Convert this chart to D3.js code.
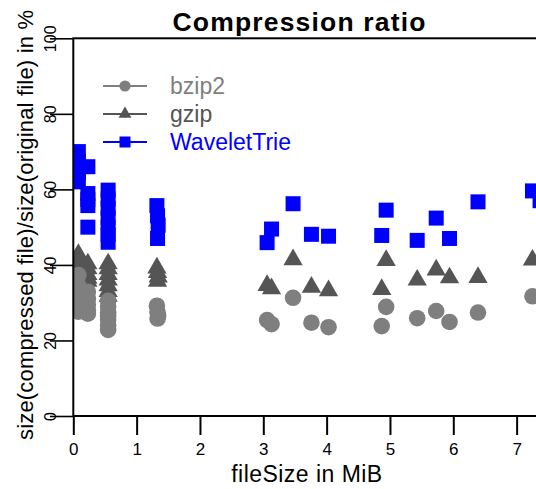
<!DOCTYPE html>
<html><head><meta charset="utf-8">
<script src="https://cdn.jsdelivr.net/npm/d3@7"></script>
<style>body{margin:0;background:#fff}svg{display:block;font-family:"Liberation Sans",Arial,Helvetica,sans-serif}</style>
</head><body><svg id="c" width="536" height="489"></svg>
<script>
const fileSizes = [0.08,0.08,0.08,0.08, 0.23,0.23,0.23,0.23,0.23, 0.55,0.55,0.55,0.55,0.55,0.55,0.55,
  1.32,1.33,1.34,1.33, 3.06,3.13,3.47,3.76,4.03,4.87,4.94,5.43,5.73,5.94,6.39,7.25,7.37];
const bzip2 = [37.3,34.5,31,27.6, 32.9,31,29.5,28,27.1, 30.5,29,27.5,26.5,25.5,24,22.8,
  29.2,27.5,26.5,25.8, 25.4,24.3,31.3,24.7,23.5,23.8,28.9,25.9,27.8,24.9,27.4,31.7,31.5];
const gzip = [42.8,41,39.5,38, 40.3,39,37.5,36.5,35.7, 40.3,39,37.5,36,34.5,33,31.7,
  39.2,38,36.8,35.7, 34.6,33.7,41.4,34.1,33.2,33.5,41.2,36.0,38.7,36.6,36.7,41.3,41.5];
const waveletTrie = [70,67.5,64.5,62, 66,58.9,57.3,55.7,50, 59.8,57.5,55,52.5,50,48,46,
  55.7,53,50.5,47, 45.9,49.5,56.2,48.1,47.6,47.8,54.5,46.5,52.4,47.0,56.7,59.6,57];
const seriesNames = ["bzip2","gzip","WaveletTrie"];
const seriesColors = ["#7f7f7f","#555555","#0000ff"];
const xTicks = [0,1,2,3,4,5,6,7];
const yTicks = [0,20,40,60,80,100];

const svg = d3.select("#c");
const L = 73.3, T = 38.3, B = 416, R = 548.3;
const x = d3.scaleLinear().domain([0,7.5]).range([L,R]);
const y = d3.scaleLinear().domain([0,100]).range([B,T]);

svg.append("defs").append("clipPath").attr("id","pc").append("rect")
  .attr("x",L).attr("y",T).attr("width",R-L).attr("height",B-T);

const plot = svg.append("g").attr("clip-path","url(#pc)");
const tri = d3.symbol().type(d3.symbolTriangle).size(161);
const triL = d3.symbol().type(d3.symbolTriangle).size(72);
const idx = d3.range(fileSizes.length);
// gzip triangles
plot.append("g").selectAll("path").data(idx).join("path")
  .attr("d", tri).attr("transform", i => `translate(${x(fileSizes[i])},${y(gzip[i])})`)
  .attr("fill", seriesColors[1]);
// bzip2 circles
plot.append("g").selectAll("circle").data(idx).join("circle")
  .attr("cx", i => x(fileSizes[i])).attr("cy", i => y(bzip2[i])).attr("r", 8.3)
  .attr("fill", seriesColors[0]);
// WaveletTrie squares
plot.append("g").selectAll("rect").data(idx).join("rect")
  .attr("x", i => x(fileSizes[i]) - 7.5).attr("y", i => y(waveletTrie[i]) - 7.5)
  .attr("width", 15).attr("height", 15).attr("fill", seriesColors[2]);

// box
svg.append("rect").attr("x",L).attr("y",T).attr("width",R-L).attr("height",B-T)
  .attr("fill","none").attr("stroke","#000").attr("stroke-width",2);

// x axis
const xa = svg.append("g").attr("transform",`translate(0,${B})`)
  .call(d3.axisBottom(x).tickValues(xTicks).tickSize(19).tickPadding(8).tickFormat(d3.format("d")));
xa.select(".domain").remove();
xa.selectAll("line").attr("stroke-width",2);
xa.selectAll("text").attr("font-size",17).attr("font-family","Liberation Sans, Arial, sans-serif").attr("fill","#000");

// y axis
const ya = svg.append("g").attr("transform",`translate(${L},0)`)
  .call(d3.axisLeft(y).tickValues(yTicks).tickSize(23.3).tickFormat(d3.format("d")));
ya.select(".domain").remove();
ya.selectAll("line").attr("stroke-width",1.6);
ya.selectAll("text").attr("font-size",16).attr("font-family","Liberation Sans, Arial, sans-serif")
  .attr("fill","#000").attr("text-anchor","middle").attr("x",null).attr("dy",null)
  .attr("transform","translate(-17.8,0) rotate(-90)");

// titles
svg.append("text").attr("x",299).attr("y",30.7).attr("text-anchor","middle")
  .attr("font-size",26.5).attr("font-weight","bold").attr("textLength",253).attr("lengthAdjust","spacing")
  .text("Compression ratio");
svg.append("text").attr("x",306.7).attr("y",482).attr("text-anchor","middle")
  .attr("font-size",23).attr("textLength",151).attr("lengthAdjust","spacing")
  .text("fileSize in MiB");
svg.append("text").attr("transform","translate(33,225) rotate(-90)").attr("text-anchor","middle")
  .attr("font-size",22).attr("textLength",430).attr("lengthAdjust","spacing")
  .text("size(compressed file)/size(original file) in %");

// legend
const legY = [86,114,142];
const lg = svg.append("g");
seriesNames.forEach((n,k) => {
  const g = lg.append("g").attr("transform",`translate(0,${legY[k]})`);
  g.append("line").attr("x1",103).attr("x2",147).attr("y1",0).attr("y2",0)
    .attr("stroke",seriesColors[k]).attr("stroke-width",1.8);
  if (k===0) g.append("circle").attr("cx",125).attr("cy",0).attr("r",5.6).attr("fill",seriesColors[k]);
  if (k===1) g.append("path").attr("d",triL).attr("transform","translate(125,0)").attr("fill",seriesColors[k]);
  if (k===2) g.append("rect").attr("x",119.5).attr("y",-5.5).attr("width",11).attr("height",11).attr("fill",seriesColors[k]);
  g.append("text").attr("x",170).attr("y",8).attr("font-size",23).attr("fill",seriesColors[k]).text(n);
});
</script></body></html>
